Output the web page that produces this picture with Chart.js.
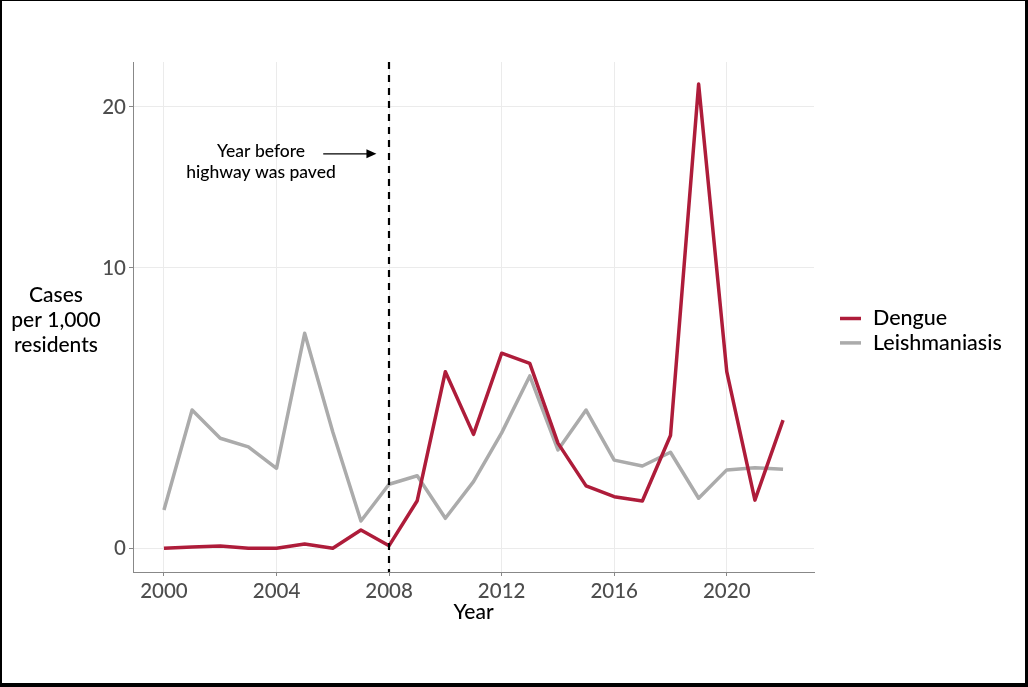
<!DOCTYPE html>
<html>
<head>
<meta charset="utf-8">
<script src="https://cdn.jsdelivr.net/npm/chart.js"></script>
<style>
  html, body { margin: 0; padding: 0; background: #fff; }
  #wrap { position: relative; width: 1028px; height: 687px; background: #fff; }
  #frame {
    position: absolute; left: 0; top: 0; width: 1028px; height: 687px;
    box-sizing: border-box; border-style: solid; border-color: #000;
    border-width: 1px 3px 4px 2px; pointer-events: none;
  }
</style>
</head>
<body>
<div id="wrap">
  <canvas id="casesChart"></canvas>
  <div id="frame"></div>
</div>
<script>
// Data
const YEARS = [2000, 2001, 2002, 2003, 2004, 2005, 2006, 2007, 2008, 2009, 2010, 2011,
               2012, 2013, 2014, 2015, 2016, 2017, 2018, 2019, 2020, 2021, 2022];
const DENGUE = [0, 0.003, 0.0065, 0, 0, 0.017, 0, 0.155, 0.008, 0.667, 4.94, 2.53,
                5.75, 5.30, 2.24, 1.01, 0.755, 0.661, 2.49, 21.6, 4.94, 0.68, 3.03];
const LEISH = [0.479, 3.40, 2.40, 2.12, 1.475, 6.67, 2.61, 0.286, 1.05, 1.27, 0.33, 1.115,
               2.58, 4.76, 2.02, 3.40, 1.71, 1.54, 1.95, 0.72, 1.43, 1.49, 1.45];
const SERIES_NAMES = ['Dengue', 'Leishmaniasis'];
const X_TICKS = [2000, 2004, 2008, 2012, 2016, 2020];
const Y_TICKS = [0, 10, 20];
const PAVED_YEAR = 2008;
const NOTE_LINES = ['Year before', 'highway was paved'];
const Y_TITLE = ['Cases', 'per 1,000', 'residents'];
const X_TITLE = 'Year';

// compressed y axis (power transform)
const POW = 0.655;
const fwd = v => Math.sign(v) * Math.pow(Math.abs(v), POW);
const inv = t => Math.sign(t) * Math.pow(Math.abs(t), 1 / POW);

class PowerScale extends Chart.LinearScale {
    buildTicks() {
        return Y_TICKS.map(v => ({ value: v }));
    }
    getPixelForValue(value) {
        const a = fwd(this.min), b = fwd(this.max);
        return this.getPixelForDecimal((fwd(value) - a) / (b - a));
    }
    getValueForPixel(pixel) {
        const a = fwd(this.min), b = fwd(this.max);
        return inv(a + this.getDecimalForPixel(pixel) * (b - a));
    }
}
PowerScale.id = 'power';
PowerScale.defaults = {};
Chart.register(PowerScale);

Chart.defaults.font.family = 'Lato';
Chart.defaults.font.weight = 500;

const overlay = {
    id: 'overlay',
    afterDatasetsDraw(chart) {
        const { ctx, chartArea, scales: { x, y } } = chart;
        ctx.save();
        // dashed line at 2008
        const px = Math.round(x.getPixelForValue(PAVED_YEAR));
        ctx.strokeStyle = '#000';
        ctx.lineWidth = 2.2;
        ctx.setLineDash([7, 6]);
        ctx.beginPath();
        ctx.moveTo(px, chartArea.top);
        ctx.lineTo(px, chartArea.bottom);
        ctx.stroke();
        ctx.setLineDash([]);

        // note text
        ctx.fillStyle = '#000';
        ctx.font = '500 17.5px Lato';
        ctx.textAlign = 'center';
        ctx.textBaseline = 'middle';
        const tx = x.getPixelForValue(2003.45);
        const ty = y.getPixelForValue(17);
        NOTE_LINES.forEach((s, i) => ctx.fillText(s, tx, ty + i * 20.6));

        // arrow
        const ax1 = x.getPixelForValue(2005.66);
        const ax2 = x.getPixelForValue(2007.55);
        const ay = y.getPixelForValue(16.85);
        ctx.lineWidth = 1.2;
        ctx.beginPath();
        ctx.moveTo(ax1, ay);
        ctx.lineTo(ax2 - 8, ay);
        ctx.stroke();
        ctx.beginPath();
        ctx.moveTo(ax2, ay);
        ctx.lineTo(ax2 - 10, ay - 4.5);
        ctx.lineTo(ax2 - 10, ay + 4.5);
        ctx.closePath();
        ctx.fill();
        ctx.restore();
    },
    afterDraw(chart) {
        const { ctx, chartArea } = chart;
        ctx.save();
        ctx.fillStyle = '#000';
        ctx.textBaseline = 'middle';

        // axis titles
        ctx.font = '500 21px Lato';
        ctx.textAlign = 'center';
        Y_TITLE.forEach((s, i) => ctx.fillText(s, 56, 295 + i * 25));
        ctx.fillText(X_TITLE, (chartArea.left + chartArea.right) / 2, 612);

        // legend
        ctx.font = '500 21.5px Lato';
        ctx.textAlign = 'left';
        chart.data.datasets.forEach((ds, i) => {
            const ly = 318.5 + i * 24.4;
            ctx.strokeStyle = ds.borderColor;
            ctx.lineWidth = 3.5;
            ctx.beginPath();
            ctx.moveTo(840, ly);
            ctx.lineTo(861, ly);
            ctx.stroke();
            ctx.fillText(ds.label, 873, ly);
        });
        ctx.restore();
    }
};

const axisStyle = {
    grid: { color: '#ebebeb', lineWidth: 1, tickColor: '#888', tickLength: 4 },
    border: { color: '#888', width: 1 },
    ticks: { color: '#4d4d4d', font: { size: 20.5 }, padding: 3, callback: v => String(v) }
};

new Chart(document.getElementById('casesChart'), {
    type: 'line',
    data: {
        datasets: [
            {
                label: SERIES_NAMES[0],
                data: YEARS.map((yr, i) => ({ x: yr, y: DENGUE[i] })),
                borderColor: '#AE1C3A',
                borderWidth: 3.5,
                borderJoinStyle: 'round',
                pointRadius: 0,
                tension: 0,
                fill: false
            },
            {
                label: SERIES_NAMES[1],
                data: YEARS.map((yr, i) => ({ x: yr, y: LEISH[i] })),
                borderColor: '#ABABAB',
                borderWidth: 3.5,
                borderJoinStyle: 'round',
                pointRadius: 0,
                tension: 0,
                fill: false
            }
        ]
    },
    options: {
        responsive: true,
        maintainAspectRatio: false,
        animation: false,
        layout: { padding: { top: 62, right: 214, bottom: 0, left: 0 } },
        scales: {
            x: {
                type: 'linear',
                min: 1998.9,
                max: 2023.1,
                afterBuildTicks: s => { s.ticks = X_TICKS.map(v => ({ value: v })); },
                afterFit: s => { s.height = 115; },
                ...axisStyle
            },
            y: {
                type: 'power',
                min: -0.2302,
                max: 23.19,
                afterFit: s => { s.width = 133; },
                ...axisStyle
            }
        },
        plugins: {
            legend: { display: false },
            tooltip: { enabled: false }
        }
    },
    plugins: [overlay]
});
</script>
</body>
</html>
